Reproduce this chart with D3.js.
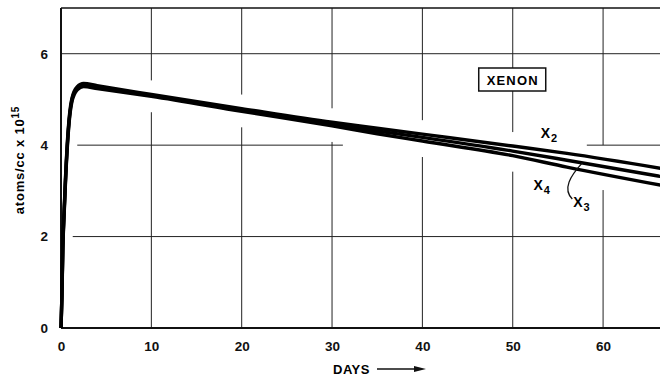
<!DOCTYPE html>
<html>
<head>
<meta charset="utf-8">
<script src="https://cdn.jsdelivr.net/npm/d3@7"></script>
<style>
  body { margin: 0; background: #fff; }
  svg { display: block; font-family: "Liberation Sans", Arial, sans-serif; }
  .tick-label { font-size: 13.5px; font-weight: bold; fill: #111; }
  .grid { stroke: #222; stroke-width: 1; fill: none; }
  .curve { fill: none; stroke: #000; stroke-width: 3.4; stroke-linejoin: round; }
</style>
</head>
<body>
<div id="chart"></div>
<script>
// days after start
const days = [0, 0.1, 0.2, 0.35, 0.5, 0.8, 1.2, 1.8, 2.5, 4, 10, 20, 30, 35, 40, 50, 56, 66.5];
// xenon concentration, atoms/cc x 10^15
const x2 = [0, 0.7, 1.8, 2.6, 3.3, 4.35, 5.02, 5.28, 5.35, 5.30, 5.11, 4.80, 4.50, 4.37, 4.24, 3.98, 3.82, 3.49];
const x3 = [0, 0.7, 1.75, 2.55, 3.25, 4.30, 4.98, 5.25, 5.32, 5.27, 5.09, 4.77, 4.46, 4.31, 4.17, 3.87, 3.67, 3.31];
const x4 = [0, 0.65, 1.7, 2.5, 3.2, 4.25, 4.94, 5.21, 5.28, 5.24, 5.07, 4.74, 4.42, 4.25, 4.09, 3.77, 3.52, 3.12];
const seriesNames = ['X2', 'X3', 'X4'];

const xTicks = [0, 10, 20, 30, 40, 50, 60];
const yTicks = [0, 2, 4, 6];

const width = 660, height = 379;
const margin = {top: 8, right: 0, bottom: 51, left: 61};

const svg = d3.select('#chart').append('svg')
    .attr('width', width)
    .attr('height', height);

// scales
const scaleX = d3.scaleLinear([0, 66.3], [margin.left, width - margin.right]);
const scaleY = d3.scaleLinear([0, 7], [height - margin.bottom, margin.top]);
const xMax = scaleX.domain()[1];

const series = [x2, x3, x4].map((vals, i) => ({
    name: seriesNames[i],
    values: days.map((d, j) => ({day: d, v: vals[j]}))
}));

// value of a series at a given day (for gaps in the grid round the curves)
function valueAt(s, day) {
    const i = d3.bisector(d => d.day).left(s.values, day);
    if (i <= 0) return s.values[0].v;
    if (i >= s.values.length) return s.values[s.values.length - 1].v;
    const a = s.values[i - 1], b = s.values[i];
    return a.v + (b.v - a.v) * (day - a.day) / (b.day - a.day);
}

// horizontal grid, drawn in pieces like the original sheet
const hGrid = [
    {y: 6, segs: [[0, xMax]]},
    {y: 4, segs: [[1.8, 31.2], [58.2, xMax]]},
    {y: 2, segs: [[1.3, xMax]]}
];
const gridG = svg.append('g');
hGrid.forEach(g => g.segs.forEach(([a, b]) => {
    gridG.append('line').attr('class', 'grid')
        .attr('x1', scaleX(a)).attr('x2', scaleX(b))
        .attr('y1', scaleY(g.y)).attr('y2', scaleY(g.y));
}));

// vertical grid, broken where the curves pass
xTicks.filter(d => d > 0).forEach(d => {
    const vals = series.map(s => valueAt(s, d));
    const yTopCurve = scaleY(d3.max(vals)) - 14;
    const yBotCurve = scaleY(d3.min(vals)) + 16;
    gridG.append('line').attr('class', 'grid')
        .attr('x1', scaleX(d)).attr('x2', scaleX(d))
        .attr('y1', scaleY(7)).attr('y2', yTopCurve);
    gridG.append('line').attr('class', 'grid')
        .attr('x1', scaleX(d)).attr('x2', scaleX(d))
        .attr('y1', yBotCurve).attr('y2', scaleY(0));
});

// frame: top, left, bottom
svg.append('line').attr('stroke', '#111').attr('stroke-width', 1.5)
    .attr('x1', scaleX(0)).attr('x2', width).attr('y1', scaleY(7)).attr('y2', scaleY(7));
svg.append('line').attr('stroke', '#111').attr('stroke-width', 2)
    .attr('x1', scaleX(0)).attr('x2', scaleX(0)).attr('y1', scaleY(7)).attr('y2', scaleY(0));
svg.append('line').attr('stroke', '#111').attr('stroke-width', 2)
    .attr('x1', scaleX(0)).attr('x2', width).attr('y1', scaleY(0)).attr('y2', scaleY(0));

// axes (labels only, no tick marks)
const axisX = svg.append('g')
    .attr('transform', `translate(0, ${scaleY(0)})`)
    .call(d3.axisBottom(scaleX).tickValues(xTicks).tickFormat(d3.format('d')).tickSize(0).tickPadding(13));
const axisY = svg.append('g')
    .attr('transform', `translate(${scaleX(0)}, 0)`)
    .call(d3.axisLeft(scaleY).tickValues(yTicks).tickFormat(d3.format('d')).tickSize(0).tickPadding(13));
[axisX, axisY].forEach(ax => {
    ax.select('.domain').remove();
    ax.selectAll('text').attr('class', 'tick-label').attr('font-family', null).attr('font-size', null);
});

// curves
const line = d3.line()
    .x(d => scaleX(d.day))
    .y(d => scaleY(d.v))
    .curve(d3.curveMonotoneX);
svg.append('g').selectAll('path.curve')
    .data(series)
    .join('path')
    .classed('curve', true)
    .attr('d', d => line(d.values));

// XENON box
const box = svg.append('g').attr('transform', `translate(${scaleX(50)}, 80)`);
box.append('rect')
    .attr('x', -34).attr('y', -12).attr('width', 67).attr('height', 23)
    .attr('fill', '#fff').attr('stroke', '#111').attr('stroke-width', 1.5);
box.append('text')
    .attr('text-anchor', 'middle').attr('dy', '0.36em')
    .attr('font-size', 13).attr('font-weight', 'bold').attr('letter-spacing', 1.2)
    .text('XENON');

// series labels
function subLabel(x, y, main, sub) {
    const t = svg.append('text').attr('x', x).attr('y', y)
        .attr('font-size', 14).attr('font-weight', 'bold');
    t.append('tspan').text(main);
    t.append('tspan').attr('font-size', 11).attr('dy', 4).attr('dx', 1).text(sub);
}
subLabel(scaleX(53.1), 138, 'X', '2');
subLabel(scaleX(52.3), 190, 'X', '4');
subLabel(scaleX(56.7), 207, 'X', '3');

// leader from X3 label to its curve
const lx = scaleX(57.7);
svg.append('path')
    .attr('d', `M${lx},${scaleY(valueAt(series[1], 57.7))} C${lx - 12},176 ${lx - 20},189 ${lx - 10},199`)
    .attr('fill', 'none').attr('stroke', '#111').attr('stroke-width', 1.3);

// x label with arrow
svg.append('text')
    .attr('x', 333).attr('y', 374)
    .attr('font-size', 13).attr('font-weight', 'bold').attr('letter-spacing', 0.5)
    .text('DAYS');
svg.append('line').attr('x1', 377).attr('x2', 418).attr('y1', 369).attr('y2', 369)
    .attr('stroke', '#111').attr('stroke-width', 1.5);
svg.append('path').attr('d', 'M426,369 L414,366 L414,372 Z').attr('fill', '#111');

// y label
const yl = svg.append('text')
    .attr('transform', `translate(24, 160) rotate(-90)`)
    .attr('text-anchor', 'middle')
    .attr('font-size', 13).attr('font-weight', 'bold').attr('letter-spacing', 0.8);
yl.append('tspan').text('atoms/cc x 10');
yl.append('tspan').attr('font-size', 10).attr('dy', -5).text('15');
</script>
</body>
</html>
